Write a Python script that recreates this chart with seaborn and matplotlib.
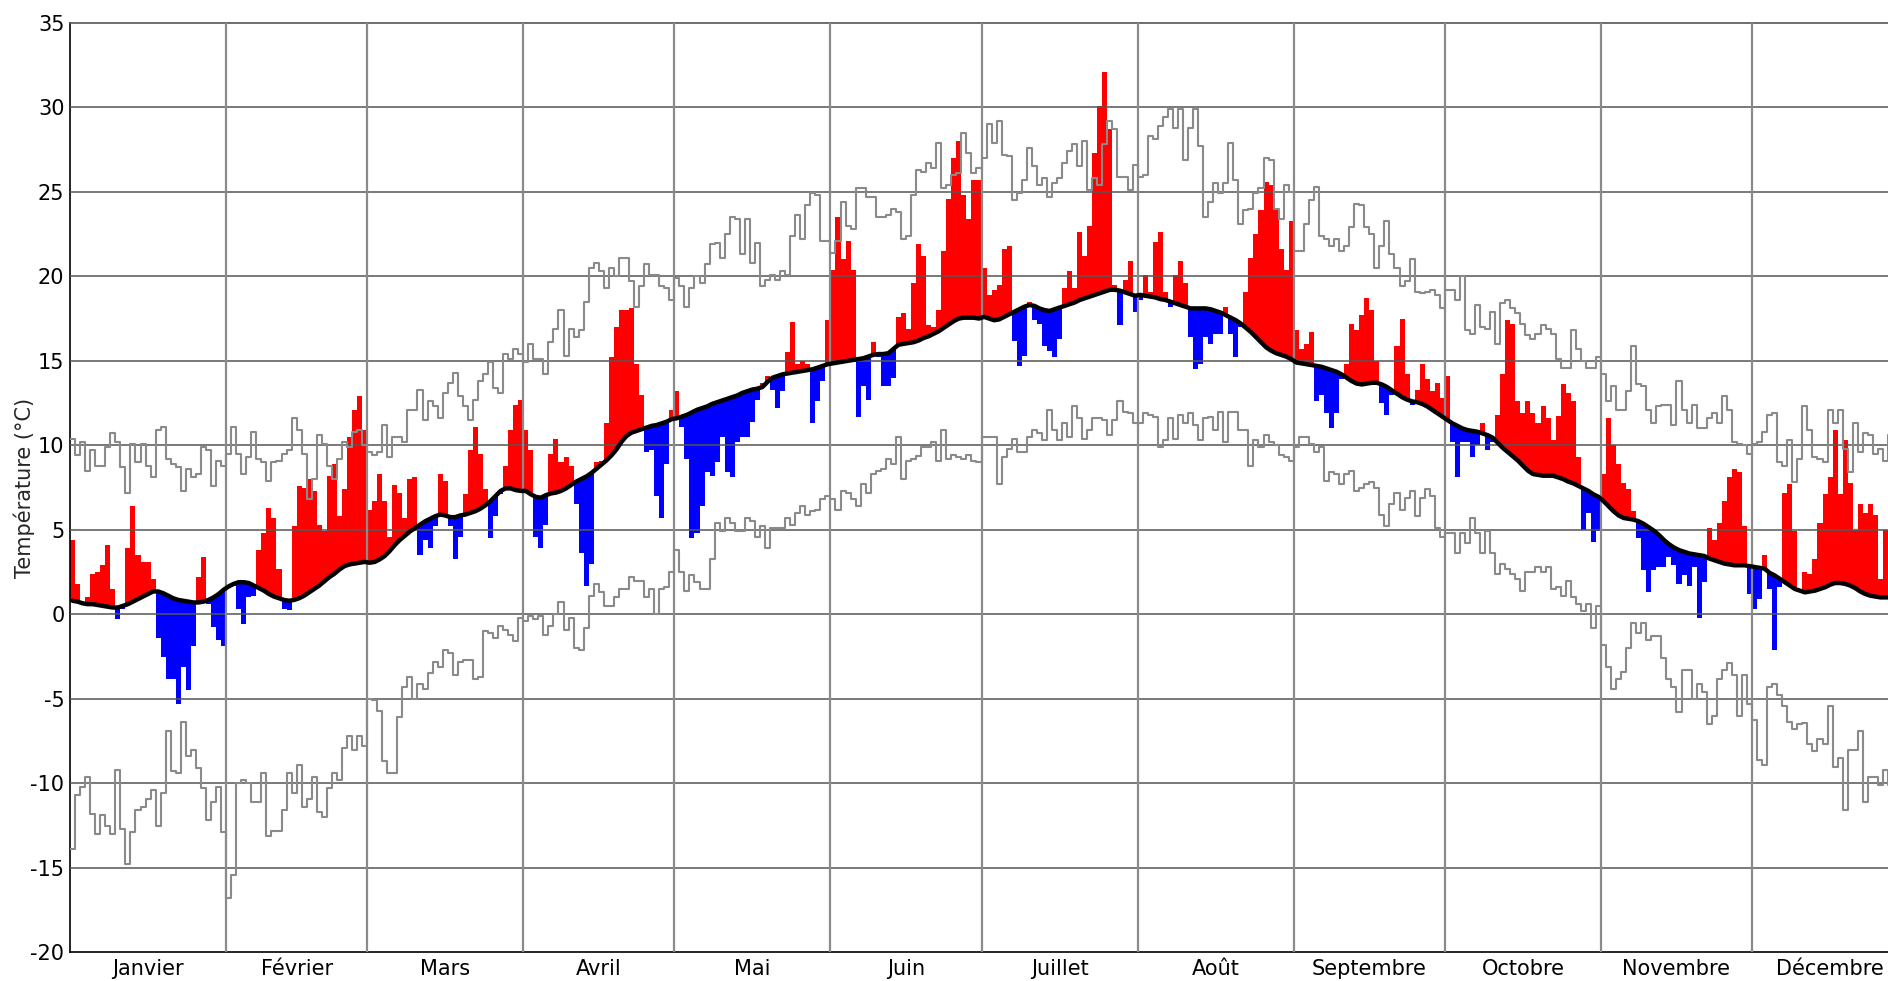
import numpy as np
import pandas as pd
import matplotlib
matplotlib.use("Agg")
import matplotlib.pyplot as plt
import seaborn as sns

# Month names and day counts (view ends around 28 December)
months = ["Janvier", "Février", "Mars", "Avril", "Mai", "Juin",
          "Juillet", "Août", "Septembre", "Octobre", "Novembre", "Décembre"]
month_days = [31, 28, 31, 30, 31, 30, 31, 31, 30, 31, 30, 31]

# Normal temperature (black curve), one value per day, one row per month
normal = [
    0.8, 0.75, 0.65, 0.6, 0.6, 0.55, 0.5, 0.45, 0.4, 0.4, 0.5, 0.6, 0.75, 0.9, 1.05, 1.2, 1.35, 1.35, 1.25, 1.1, 0.95, 0.85, 0.8, 0.75, 0.7, 0.7, 0.75, 0.85, 1.0, 1.2, 1.45,
    1.65, 1.8, 1.9, 1.9, 1.85, 1.7, 1.55, 1.4, 1.2, 1.05, 0.95, 0.85, 0.8, 0.85, 0.95, 1.1, 1.3, 1.5, 1.7, 1.95, 2.2, 2.4, 2.65, 2.85, 2.95, 3.0, 3.05, 3.1,
    3.05, 3.1, 3.25, 3.45, 3.75, 4.1, 4.4, 4.65, 4.9, 5.1, 5.3, 5.5, 5.65, 5.8, 5.9, 5.85, 5.75, 5.75, 5.85, 5.9, 6.0, 6.1, 6.25, 6.45, 6.7, 7.0, 7.3, 7.45, 7.45, 7.35, 7.3,
    7.3, 7.1, 6.95, 6.9, 7.05, 7.15, 7.2, 7.3, 7.45, 7.65, 7.85, 8.0, 8.15, 8.35, 8.6, 8.85, 9.1, 9.4, 9.75, 10.2, 10.55, 10.75, 10.85, 10.95, 11.05, 11.15, 11.2, 11.3, 11.4, 11.55,
    11.6, 11.7, 11.8, 11.95, 12.1, 12.2, 12.3, 12.45, 12.55, 12.65, 12.75, 12.85, 12.95, 13.1, 13.2, 13.3, 13.35, 13.45, 13.75, 14.0, 14.1, 14.2, 14.25, 14.3, 14.35, 14.4, 14.45, 14.5, 14.6, 14.7, 14.8,
    14.85, 14.9, 14.95, 15.0, 15.05, 15.1, 15.15, 15.25, 15.35, 15.4, 15.4, 15.45, 15.7, 15.95, 16.0, 16.05, 16.1, 16.2, 16.35, 16.45, 16.6, 16.75, 16.95, 17.15, 17.35, 17.5, 17.55, 17.55, 17.55, 17.5,
    17.6, 17.5, 17.4, 17.45, 17.6, 17.75, 17.9, 18.05, 18.2, 18.3, 18.25, 18.1, 18.0, 17.95, 18.05, 18.15, 18.25, 18.35, 18.45, 18.6, 18.7, 18.8, 18.9, 19.0, 19.1, 19.2, 19.2, 19.15, 19.05, 18.95, 18.85,
    18.9, 18.85, 18.8, 18.75, 18.65, 18.6, 18.5, 18.4, 18.3, 18.2, 18.1, 18.1, 18.1, 18.1, 18.05, 17.95, 17.85, 17.7, 17.55, 17.4, 17.2, 16.95, 16.7, 16.4, 16.1, 15.8, 15.6, 15.45, 15.35, 15.25, 15.1,
    14.9, 14.85, 14.8, 14.75, 14.7, 14.65, 14.55, 14.45, 14.35, 14.2, 14.0, 13.8, 13.65, 13.6, 13.65, 13.7, 13.7, 13.6, 13.45, 13.25, 13.05, 12.85, 12.7, 12.6, 12.55, 12.45, 12.3, 12.1, 11.9, 11.7,
    11.5, 11.3, 11.15, 11.0, 10.9, 10.85, 10.8, 10.7, 10.6, 10.45, 10.15, 9.85, 9.6, 9.35, 9.1, 8.8, 8.5, 8.3, 8.25, 8.2, 8.2, 8.2, 8.1, 8.0, 7.85, 7.75, 7.6, 7.45, 7.3, 7.1, 6.95,
    6.7, 6.4, 6.1, 5.85, 5.7, 5.65, 5.6, 5.5, 5.35, 5.15, 4.95, 4.7, 4.4, 4.15, 3.95, 3.8, 3.7, 3.6, 3.55, 3.5, 3.45, 3.3, 3.2, 3.1, 3.0, 2.95, 2.9, 2.9, 2.9, 2.85,
    2.8, 2.75, 2.7, 2.45, 2.3, 2.1, 1.9, 1.7, 1.5, 1.4, 1.3, 1.35, 1.4, 1.5, 1.6, 1.75, 1.85, 1.85, 1.8, 1.7, 1.55, 1.35, 1.2, 1.1, 1.05, 1.0, 1.0, 1.0,
]

# Observed daily mean temperature (red above normal, blue below)
daily = [
    4.4, 1.8, 0.6, 1.0, 2.4, 2.5, 2.9, 4.1, 1.5, -0.3, 0.3, 3.9, 6.4, 3.5, 3.1, 3.1, 2.1, -1.4, -2.5, -3.8, -3.8, -5.3, -3.1, -4.5, -1.9, 2.2, 3.4, 0.6, -0.75, -1.55, -1.9,
    1.55, 1.7, 0.34, -0.6, 1.0, 1.1, 3.8, 4.8, 6.3, 5.7, 2.7, 0.34, 0.24, 5.2, 7.6, 7.5, 8.0, 7.3, 5.3, 4.9, 8.2, 8.9, 5.8, 7.4, 10.5, 12.1, 12.9, 10.9,
    6.2, 6.7, 8.3, 6.7, 4.6, 7.65, 7.2, 5.7, 8.0, 8.1, 3.5, 4.4, 3.9, 5.2, 8.3, 7.9, 5.2, 3.3, 4.6, 7.1, 9.7, 11.1, 9.5, 7.4, 4.5, 5.8, 7.1, 8.8, 10.9, 12.4, 12.7,
    10.9, 9.7, 4.6, 3.9, 5.3, 9.5, 10.4, 9.0, 9.3, 8.8, 6.5, 3.6, 1.7, 3.0, 9.0, 9.1, 11.3, 15.2, 17.0, 18.0, 18.0, 18.1, 14.8, 13.0, 9.6, 9.7, 7.0, 5.7, 8.9, 12.1,
    13.2, 11.1, 9.2, 4.5, 4.8, 6.4, 8.4, 8.2, 9.0, 10.5, 8.4, 8.1, 10.2, 10.5, 10.5, 11.4, 12.7, 13.7, 14.1, 13.3, 12.2, 13.2, 15.5, 17.3, 14.8, 15.0, 14.8, 11.3, 12.6, 13.8, 17.4,
    20.4, 23.5, 21.0, 22.1, 20.4, 11.7, 13.5, 12.7, 16.1, 15.2, 13.5, 13.5, 14.0, 17.6, 17.8, 16.9, 19.6, 21.9, 21.2, 17.1, 17.0, 18.0, 21.5, 24.6, 27.0, 28.0, 24.8, 23.4, 25.7, 25.7,
    20.5, 18.9, 19.2, 19.5, 21.6, 21.8, 16.2, 14.7, 15.3, 18.5, 17.4, 17.2, 15.9, 15.6, 15.2, 16.3, 19.3, 20.3, 19.3, 22.6, 21.2, 23.0, 27.3, 30.1, 32.1, 28.7, 19.5, 17.1, 19.8, 20.9, 17.9,
    18.6, 20.1, 19.1, 22.0, 22.6, 19.1, 18.2, 20.1, 20.9, 19.6, 16.4, 14.5, 14.8, 16.4, 16.0, 16.6, 16.6, 18.2, 16.6, 15.2, 17.0, 19.1, 21.1, 22.5, 23.9, 25.6, 25.4, 24.0, 21.6, 20.4, 23.3,
    16.8, 15.7, 16.0, 16.7, 12.6, 13.0, 11.9, 11.0, 11.9, 13.9, 14.8, 17.2, 16.8, 17.7, 18.7, 18.0, 15.0, 12.5, 11.8, 13.0, 15.9, 17.5, 14.2, 12.4, 13.3, 14.8, 13.9, 13.2, 13.7, 12.8,
    14.1, 10.2, 8.1, 10.2, 10.2, 9.3, 10.0, 11.3, 9.7, 10.2, 11.8, 14.2, 17.4, 17.2, 12.6, 11.9, 12.6, 11.9, 11.3, 12.3, 11.6, 10.3, 11.75, 13.6, 13.1, 12.6, 9.3, 5.0, 6.0, 4.3, 4.9,
    8.3, 11.6, 10.0, 8.9, 7.75, 7.4, 6.1, 4.5, 2.6, 1.3, 2.6, 2.8, 2.8, 3.4, 2.9, 1.8, 2.3, 1.7, 2.8, -0.2, 1.9, 5.1, 4.4, 5.4, 6.7, 8.1, 8.6, 8.4, 5.2, 1.2,
    0.3, 0.9, 3.5, 1.5, -2.1, 1.6, 7.2, 7.7, 4.9, 1.3, 2.5, 2.4, 3.3, 5.4, 7.1, 8.1, 10.9, 7.1, 10.3, 7.75, 5.0, 6.5, 6.0, 6.5, 5.9, 2.1, 5.0, 5.0,
]

# Record highs (upper grey step line)
record_max = [
    10.4, 9.4, 10.2, 8.5, 9.7, 8.8, 8.8, 9.9, 10.7, 10.2, 8.7, 7.2, 10.1, 9.0, 10.1, 8.8, 8.1, 10.9, 11.1, 9.2, 8.9, 8.7, 7.3, 8.6, 8.1, 8.3, 9.9, 9.7, 7.6, 9.1, 8.8,
    9.5, 11.1, 9.5, 8.3, 9.3, 10.8, 9.2, 9.0, 7.9, 9.0, 9.1, 9.5, 9.7, 11.6, 10.9, 9.5, 6.8, 8.0, 10.6, 10.1, 8.8, 8.0, 9.2, 10.2, 9.9, 10.8, 10.9, 10.0,
    9.6, 9.4, 9.6, 11.2, 9.3, 10.5, 10.5, 10.2, 12.1, 12.1, 13.3, 11.5, 12.6, 12.3, 11.6, 13.1, 13.7, 14.3, 12.9, 12.3, 11.5, 12.7, 13.8, 14.2, 14.9, 13.4, 13.1, 15.4, 15.1, 15.7, 15.4,
    14.9, 16.0, 15.1, 15.1, 14.2, 16.1, 16.9, 18.0, 15.3, 16.9, 16.4, 16.8, 18.5, 20.5, 20.8, 20.3, 19.3, 20.5, 20.0, 21.1, 21.1, 19.7, 18.2, 19.4, 20.7, 20.1, 20.1, 19.4, 19.3, 18.6,
    19.9, 19.4, 18.2, 19.3, 20.0, 19.6, 20.7, 21.9, 21.95, 21.1, 22.5, 23.5, 23.4, 21.3, 23.4, 20.8, 22.0, 19.4, 19.8, 20.1, 19.8, 20.3, 20.1, 22.4, 23.6, 22.2, 24.2, 24.9, 24.8, 22.1, 22.1,
    21.4, 22.1, 24.4, 23.0, 22.8, 25.2, 25.2, 24.7, 24.7, 23.5, 23.5, 23.6, 24.0, 23.8, 22.2, 22.4, 24.8, 26.3, 26.2, 26.7, 26.4, 27.9, 25.2, 25.4, 26.0, 26.1, 28.5, 27.3, 26.1, 26.4,
    27.0, 29.0, 27.9, 29.2, 27.2, 27.1, 24.5, 24.9, 25.7, 27.6, 26.5, 25.4, 25.8, 24.7, 25.5, 25.8, 26.7, 27.4, 27.8, 26.5, 28.0, 25.1, 25.8, 25.4, 27.8, 29.2, 28.7, 25.9, 25.9, 25.1, 26.6,
    25.9, 26.0, 28.3, 28.1, 28.9, 29.4, 29.9, 28.8, 29.9, 26.9, 28.8, 29.9, 27.7, 23.5, 24.4, 25.5, 24.9, 25.5, 27.9, 25.7, 23.1, 23.9, 24.0, 24.9, 25.2, 27.0, 26.9, 24.0, 23.4, 25.4, 25.0,
    21.5, 21.5, 23.1, 24.5, 25.3, 22.4, 22.2, 21.8, 22.2, 21.5, 21.8, 22.9, 24.3, 24.2, 22.9, 22.5, 20.5, 21.8, 23.3, 21.3, 20.5, 19.4, 19.7, 21.0, 19.1, 19.0, 19.1, 19.2, 18.9, 18.1,
    19.2, 19.2, 18.6, 20.0, 16.8, 16.6, 18.3, 17.0, 16.9, 17.9, 16.0, 18.4, 18.6, 18.1, 17.8, 17.2, 16.5, 16.3, 16.6, 17.1, 16.9, 16.6, 15.1, 14.6, 14.6, 16.8, 15.7, 15.0, 14.6, 14.6, 15.2,
    14.2, 12.6, 13.5, 12.1, 12.1, 13.2, 15.9, 13.6, 13.5, 12.1, 11.3, 12.3, 12.4, 12.4, 11.2, 13.8, 12.1, 11.3, 12.4, 11.0, 11.0, 11.6, 11.9, 11.3, 12.9, 12.1, 10.2, 10.1, 10.0, 9.5,
    10.1, 10.2, 10.8, 11.8, 11.9, 9.0, 8.8, 10.3, 7.8, 9.2, 12.3, 10.9, 9.3, 9.2, 9.0, 12.1, 11.3, 12.1, 9.8, 8.4, 11.3, 9.6, 10.7, 10.6, 9.5, 9.8, 9.1, 10.6,
]

# Record lows (lower grey step line)
record_min = [
    -13.9, -10.7, -10.2, -9.6, -11.8, -13.0, -11.9, -12.5, -13.0, -9.2, -12.7, -14.8, -12.9, -11.6, -11.4, -10.9, -10.4, -12.5, -10.6, -6.9, -9.3, -9.4, -6.4, -8.4, -8.0, -9.1, -10.3, -12.2, -11.1, -10.2, -12.9,
    -16.8, -15.4, -10.0, -9.8, -10.0, -11.1, -11.1, -9.4, -13.1, -12.8, -12.8, -11.6, -9.4, -10.6, -8.9, -11.4, -10.9, -9.6, -11.7, -12.0, -10.3, -9.4, -9.8, -7.9, -7.2, -8.0, -7.2, -7.8,
    -5.0, -5.1, -5.7, -8.7, -9.4, -9.4, -6.1, -4.3, -3.7, -5.0, -4.1, -4.4, -3.5, -2.8, -3.1, -2.1, -2.3, -3.6, -2.8, -2.7, -2.7, -3.8, -3.7, -1.0, -1.1, -1.4, -0.7, -0.9, -1.2, -1.6, -0.2,
    -0.4, -0.1, -0.3, -0.1, -1.2, -0.7, 0.0, 0.7, -0.9, -0.2, -2.0, -2.1, -0.8, 1.1, 1.8, 1.3, 0.5, 0.5, 1.0, 1.5, 1.5, 2.2, 2.0, 2.0, 1.0, 1.5, 0.0, 1.5, 1.6, 2.5,
    3.8, 2.5, 1.4, 2.3, 1.9, 1.5, 1.5, 3.3, 5.4, 4.9, 5.7, 5.4, 4.9, 4.9, 5.7, 5.5, 4.6, 5.2, 3.9, 5.1, 5.1, 5.1, 5.7, 5.3, 6.0, 6.4, 5.9, 6.1, 6.2, 6.8, 7.0,
    6.8, 6.2, 7.3, 7.2, 6.8, 6.4, 7.7, 7.2, 8.3, 8.5, 8.6, 9.2, 8.9, 10.5, 8.0, 9.1, 9.2, 9.35, 9.9, 9.9, 10.2, 9.1, 10.9, 9.2, 9.4, 9.3, 9.2, 9.4, 9.1, 9.0,
    10.5, 10.5, 10.5, 7.7, 9.3, 9.8, 10.4, 9.6, 9.6, 10.5, 10.9, 10.7, 10.3, 12.1, 10.9, 10.3, 11.3, 10.5, 12.3, 11.6, 10.4, 10.9, 11.6, 11.6, 11.5, 10.6, 11.5, 12.6, 12.0, 11.9, 11.3,
    11.3, 11.9, 11.8, 11.7, 9.9, 10.3, 11.6, 10.4, 11.8, 11.3, 11.9, 11.2, 10.3, 11.6, 11.7, 10.9, 12.0, 10.2, 12.0, 12.0, 10.9, 10.9, 8.8, 10.3, 9.9, 10.6, 10.2, 10.0, 9.4, 9.3, 9.1,
    9.9, 10.5, 10.5, 10.1, 9.6, 9.9, 7.9, 8.4, 8.3, 7.7, 8.3, 8.5, 7.3, 7.5, 7.7, 7.8, 7.5, 5.9, 5.2, 6.5, 7.2, 6.2, 6.9, 7.3, 5.8, 6.9, 7.4, 7.0, 5.1, 4.6,
    4.8, 4.8, 3.6, 4.8, 4.2, 5.7, 4.8, 3.6, 4.9, 3.6, 2.4, 3.0, 2.7, 2.4, 2.1, 1.4, 2.5, 2.5, 2.8, 2.5, 2.8, 1.5, 1.6, 1.1, 2.0, 1.0, 0.6, 0.2, 0.6, -0.8, 0.5,
    -1.8, -3.1, -4.4, -3.8, -3.4, -2.0, -0.5, -1.1, -0.5, -1.5, -1.3, -1.3, -2.6, -3.8, -4.3, -5.8, -3.3, -3.3, -5.0, -4.1, -4.6, -6.5, -6.0, -3.8, -3.3, -2.9, -3.6, -6.0, -3.6, -5.3,
    -6.25, -8.6, -8.9, -4.3, -4.1, -4.8, -5.4, -6.35, -6.8, -6.5, -6.45, -7.7, -8.1, -7.4, -7.7, -5.4, -9.05, -8.5, -11.6, -8.0, -8.0, -6.9, -11.1, -9.6, -9.6, -10.1, -9.2, -10.1,
]

# Build a daily table
n = len(daily)
df = pd.DataFrame({
    "day": np.arange(n),
    "normal": normal,
    "daily": daily,
    "tmax": record_max,
    "tmin": record_min,
})
df["ecart"] = df["daily"] - df["normal"]

# Step lines need one extra point to close the last day
steps = pd.concat([df, df.tail(1).assign(day=n)], ignore_index=True)

sns.set_style("white")
plt.rcParams["font.family"] = ["DejaVu Sans"]
plt.rcParams["axes.unicode_minus"] = False

fig = plt.figure(figsize=(18.88, 9.81), dpi=100)
ax = fig.add_axes([70 / 1888, 1 - 952.3 / 981, 1 - 70 / 1888, (952.3 - 22.8) / 981])

# Deviation bars from the normal curve
bar_colors = np.where(df["ecart"] >= 0, "#ff0000", "#0000ff")
ax.bar(df["day"], df["ecart"], bottom=df["normal"], width=1.0, align="edge",
       color=bar_colors, linewidth=0, zorder=2)

# Record lines (grey steps)
for col in ["tmax", "tmin"]:
    sns.lineplot(data=steps, x="day", y=col, drawstyle="steps-post", estimator=None,
                 color="#8a8a8a", linewidth=1.5, ax=ax, zorder=4)

# Normal curve
sns.lineplot(x=df["day"] + 0.5, y=df["normal"], color="black", linewidth=3.2,
             estimator=None, ax=ax, zorder=5)

# Grid: horizontal every 5 °C, vertical at month starts
month_starts = np.cumsum([0] + month_days[:-1])
month_mids = month_starts + np.array(month_days) / 2
for y in range(-15, 35, 5):
    ax.axhline(y, color="#555555", linewidth=1.1, zorder=3)
for x in month_starts[1:]:
    ax.axvline(x, color="#8a8a8a", linewidth=1.6, zorder=3)

ax.set_xlim(0, 361)
ax.set_ylim(-20, 35)
ax.set_yticks(range(-20, 36, 5))
ax.set_xticks(month_starts)
ax.set_xticklabels([])
ax.set_xticks(month_mids, minor=True)
ax.set_xticklabels(months, minor=True)
ax.tick_params(axis="both", which="both", length=0, labelsize=15, colors="black")
ax.tick_params(axis="y", pad=4)
ax.tick_params(axis="x", which="minor", pad=5)

ax.set_xlabel("")
ax.set_ylabel("Température (°C)", fontsize=15)
ax.yaxis.set_label_coords(-0.0195, 0.5)

for side in ["left", "bottom", "top"]:
    ax.spines[side].set_color("black")
    ax.spines[side].set_linewidth(1.2)
ax.spines["top"].set_color("#555555")
ax.spines["right"].set_visible(False)

fig.savefig("out.png", dpi=100)
